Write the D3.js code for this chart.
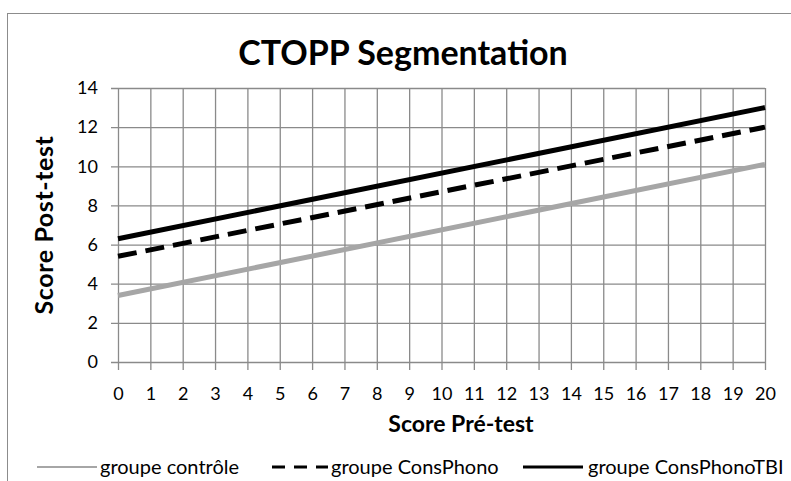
<!DOCTYPE html>
<html>
<head>
<meta charset="utf-8">
<script src="https://cdn.jsdelivr.net/npm/d3@7"></script>
<style>
  html, body { margin: 0; padding: 0; background: #fff; }
  svg { display: block; }
  text { font-family: Lato, "Open Sans", sans-serif; fill: #000; }
</style>
</head>
<body>
<svg id="chart" width="791" height="481"></svg>
<script>
// Regression lines: post-test score predicted from pre-test score
const preTest      = [0, 20];
const controle     = [3.4, 10.1];
const consPhono    = [5.4, 12.0];
const consPhonoTBI = [6.3, 13.0];

const xTicks = d3.range(0, 21, 1);
const yTicks = d3.range(0, 15, 2);

const seriesNames  = ["groupe contrôle", "groupe ConsPhono", "groupe ConsPhonoTBI"];
const seriesValues = [controle, consPhono, consPhonoTBI];
const seriesColors = ["#a6a6a6", "#000000", "#000000"];
const seriesDash   = [null, "19,9", null];

const svg = d3.select("#chart");

// outer chart frame
svg.append("rect")
  .attr("x", 7.5).attr("y", 13.5)
  .attr("width", 800).attr("height", 500)
  .attr("fill", "#fff")
  .attr("stroke", "#8c8c8c").attr("stroke-width", 1);

const plot = { left: 118, right: 765, top: 88, bottom: 362 };

const x = d3.scaleLinear().domain([0, 20]).range([plot.left, plot.right]);
const y = d3.scaleLinear().domain([0, 14]).range([plot.bottom, plot.top]);

const tickOut = 8;
const gridColor = "#8a8a8a";

// x axis: vertical gridlines extend below the baseline as tick marks
const xAxis = d3.axisBottom(x)
  .tickValues(xTicks)
  .tickSizeInner(-(plot.bottom - plot.top + tickOut))
  .tickSizeOuter(0)
  .tickPadding(17)
  .tickFormat(d3.format("d"));

const gx = svg.append("g")
  .attr("transform", `translate(0,${plot.bottom + tickOut})`)
  .call(xAxis);
gx.select(".domain").remove();
gx.selectAll(".tick line").attr("stroke", gridColor).attr("stroke-width", 1.3);
gx.selectAll(".tick text")
  .style("font-size", "18px").attr("fill", "#111");

// y axis: horizontal gridlines extend left of the plot as tick marks
const yAxis = d3.axisLeft(y)
  .tickValues(yTicks)
  .tickSizeInner(-(plot.right - plot.left + tickOut - 1))
  .tickSizeOuter(0)
  .tickPadding(13)
  .tickFormat(d3.format("d"));

const gy = svg.append("g")
  .attr("transform", `translate(${plot.left - tickOut + 1},0)`)
  .call(yAxis);
gy.select(".domain").remove();
gy.selectAll(".tick line").attr("stroke", gridColor).attr("stroke-width", 1.3);
gy.selectAll(".tick text")
  .style("font-size", "18px").attr("fill", "#111");

// series lines
const line = d3.line()
  .x((d, i) => x(preTest[i]))
  .y(d => y(d));

seriesValues.forEach((vals, i) => {
  svg.append("path")
    .datum(vals)
    .attr("d", line)
    .attr("fill", "none")
    .attr("stroke", seriesColors[i])
    .attr("stroke-width", 5)
    .attr("stroke-dasharray", seriesDash[i]);
});

// title
svg.append("text")
  .attr("x", 403).attr("y", 65)
  .attr("text-anchor", "middle")
  .style("font-size", "34px").style("font-weight", "bold")
  .text("CTOPP Segmentation");

// axis titles
svg.append("text")
  .attr("x", 461).attr("y", 432)
  .attr("text-anchor", "middle")
  .style("font-size", "23px").style("font-weight", "bold")
  .text("Score Pré-test");

svg.append("text")
  .attr("transform", "translate(53,225) rotate(-90)")
  .attr("text-anchor", "middle")
  .style("font-size", "25px").style("font-weight", "bold")
  .style("letter-spacing", "0.6px")
  .text("Score Post-test");

// legend
const legendItems = [
  { x0: 37, x1: 97, tx: 100, w: 2 },
  { x0: 272, x1: 328, tx: 331, w: 3 },
  { x0: 523, x1: 583, tx: 588, w: 3 }
];
const ly = 467;
legendItems.forEach((it, i) => {
  svg.append("line")
    .attr("x1", it.x0).attr("x2", it.x1)
    .attr("y1", ly).attr("y2", ly)
    .attr("stroke", seriesColors[i])
    .attr("stroke-width", it.w)
    .attr("stroke-dasharray", seriesDash[i] ? "13,9" : null);
  svg.append("text")
    .attr("x", it.tx).attr("y", ly)
    .attr("dy", "0.35em")
    .style("font-size", "20px")
    .attr("fill", "#111")
    .text(seriesNames[i]);
});
</script>
</body>
</html>
